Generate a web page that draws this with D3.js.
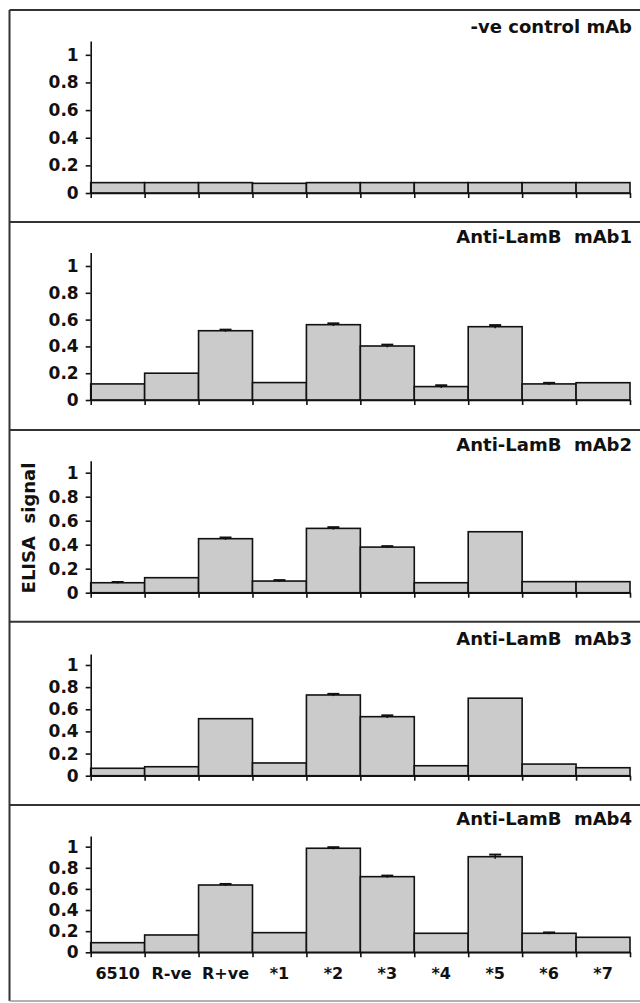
<!DOCTYPE html>
<html>
<head>
<meta charset="utf-8">
<script src="https://cdn.jsdelivr.net/npm/d3@7"></script>
<style>
  body { margin: 0; background: #fff; }
  svg { display: block; font-family: "DejaVu Sans", sans-serif; font-weight: bold; }
  .tick text { fill: #111; font-family: "DejaVu Sans", sans-serif; }
</style>
</head>
<body>
<svg id="chart" width="640" height="1003"></svg>
<script>
// categories along the x axis (same for every panel)
const categories = ["6510", "R-ve", "R+ve", "*1", "*2", "*3", "*4", "*5", "*6", "*7"];

const panelTitles = ["-ve control mAb", "Anti-LamB  mAb1", "Anti-LamB  mAb2", "Anti-LamB  mAb3", "Anti-LamB  mAb4"];

// ELISA signal per antibody
const controlValues = [0.075, 0.075, 0.075, 0.07, 0.075, 0.075, 0.075, 0.075, 0.075, 0.075];
const mAb1Values = [0.12, 0.2, 0.517, 0.13, 0.562, 0.403, 0.1, 0.547, 0.12, 0.129];
const mAb2Values = [0.083, 0.125, 0.45, 0.097, 0.536, 0.38, 0.083, 0.508, 0.092, 0.092];
const mAb3Values = [0.067, 0.081, 0.515, 0.115, 0.729, 0.533, 0.09, 0.70, 0.105, 0.072];
const mAb4Values = [0.091, 0.164, 0.637, 0.186, 0.985, 0.716, 0.18, 0.905, 0.18, 0.142];

// error bars (0 = not visible)
const controlErrors = [0, 0, 0, 0, 0, 0, 0, 0, 0, 0];
const mAb1Errors = [0, 0, 0.008, 0, 0.01, 0.01, 0.01, 0.012, 0.008, 0];
const mAb2Errors = [0.006, 0, 0.01, 0.008, 0.01, 0.008, 0, 0, 0, 0];
const mAb3Errors = [0, 0, 0, 0, 0.01, 0.012, 0, 0, 0, 0];
const mAb4Errors = [0, 0, 0.01, 0, 0.01, 0.01, 0, 0.02, 0.008, 0];

const yTicks = [0, 0.2, 0.4, 0.6, 0.8, 1];
const yMax = 1.1;

const allValues = [controlValues, mAb1Values, mAb2Values, mAb3Values, mAb4Values];
const allErrors = [controlErrors, mAb1Errors, mAb2Errors, mAb3Errors, mAb4Errors];

// panel layout: separator line, zero line and title baseline of each panel
const panelLayout = [
    {top: 10, zero: 193, titleY: 33},
    {top: 222, zero: 400, titleY: 243},
    {top: 430, zero: 592.7, titleY: 451},
    {top: 621.7, zero: 775.7, titleY: 645},
    {top: 805, zero: 952.3, titleY: 825}
];
const axisTops = [41, 252.6, 460.7, 653.9, 836.1];

const plotLeft = 90.7, plotRight = 630;

const svg = d3.select("#chart");

let x = d3.scaleBand().domain(categories).range([plotLeft, plotRight]).padding(0);
let xEdges = d3.scaleLinear().domain([0, categories.length]).range([plotLeft, plotRight]);

// outer frame
svg.append("line").attr("x1", 9.5).attr("x2", 9.5).attr("y1", 10).attr("y2", 1001)
    .attr("stroke", "#333").attr("stroke-width", 2);
svg.append("line").attr("x1", 9.5).attr("x2", 640).attr("y1", 1001).attr("y2", 1001)
    .attr("stroke", "#999").attr("stroke-width", 1.5);

for (let p = 0; p < panelLayout.length; ++p) {
    let lay = panelLayout[p];
    let values = allValues[p];
    let errors = allErrors[p];

    let y = d3.scaleLinear().domain([0, yMax]).range([lay.zero, axisTops[p]]);

    let g = svg.append("g").attr("class", "panel");

    g.append("line")
        .attr("x1", 9.5).attr("x2", 640)
        .attr("y1", lay.top).attr("y2", lay.top)
        .attr("stroke", "#333").attr("stroke-width", 2);

    g.append("text")
        .attr("x", 632).attr("y", lay.titleY)
        .attr("text-anchor", "end")
        .style("white-space", "pre")
        .style("font-size", "18px")
        .attr("fill", "#111")
        .text(panelTitles[p]);

    g.selectAll("rect.bar")
        .data(values)
        .enter()
        .append("rect")
        .attr("class", "bar")
        .attr("x", (d, i) => x(categories[i]))
        .attr("width", x.bandwidth())
        .attr("y", d => y(d))
        .attr("height", d => y(0) - y(d))
        .attr("fill", "#cbcbcb")
        .attr("stroke", "#111")
        .attr("stroke-width", 1.6);

    // error bars
    let eb = g.selectAll("g.err")
        .data(values.map((v, i) => ({v: v, e: errors[i], c: categories[i]})).filter(d => d.e > 0))
        .enter()
        .append("g").attr("class", "err");
    eb.append("line")
        .attr("x1", d => x(d.c) + x.bandwidth() / 2).attr("x2", d => x(d.c) + x.bandwidth() / 2)
        .attr("y1", d => y(d.v - d.e)).attr("y2", d => y(d.v + d.e))
        .attr("stroke", "#111").attr("stroke-width", 1.5);
    eb.append("line")
        .attr("x1", d => x(d.c) + x.bandwidth() / 2 - 6).attr("x2", d => x(d.c) + x.bandwidth() / 2 + 6)
        .attr("y1", d => y(d.v + d.e)).attr("y2", d => y(d.v + d.e))
        .attr("stroke", "#111").attr("stroke-width", 2);

    // y axis
    g.append("g")
        .attr("transform", "translate(" + plotLeft + ",0)")
        .call(d3.axisLeft(y).tickValues(yTicks).tickFormat(d3.format("~g")).tickSize(5).tickSizeOuter(0).tickPadding(7))
        .call(a => a.select(".domain").attr("stroke", "#111").attr("stroke-width", 1.6))
        .call(a => a.selectAll(".tick line").attr("stroke", "#111").attr("stroke-width", 1.6))
        .call(a => a.selectAll("text").style("font-size", "17px"));

    // x axis with ticks between categories
    g.append("g")
        .attr("transform", "translate(0," + lay.zero + ")")
        .call(d3.axisBottom(xEdges).tickValues(d3.range(categories.length + 1)).tickFormat("").tickSize(5).tickSizeOuter(0))
        .call(a => a.select(".domain").attr("stroke", "#111").attr("stroke-width", 1.6))
        .call(a => a.selectAll(".tick line").attr("stroke", "#111").attr("stroke-width", 1.6));

    if (p === panelLayout.length - 1) {
        g.append("g")
            .attr("transform", "translate(0," + lay.zero + ")")
            .call(d3.axisBottom(x).tickSize(0).tickPadding(15))
            .call(a => a.select(".domain").remove())
            .call(a => a.selectAll("text").style("font-size", "16px"));
    }
}

// y axis title
svg.append("text")
    .attr("transform", "translate(35,528) rotate(-90)")
    .attr("text-anchor", "middle")
    .style("white-space", "pre")
    .style("font-size", "18px")
    .attr("fill", "#111")
    .text("ELISA  signal");
</script>
</body>
</html>
